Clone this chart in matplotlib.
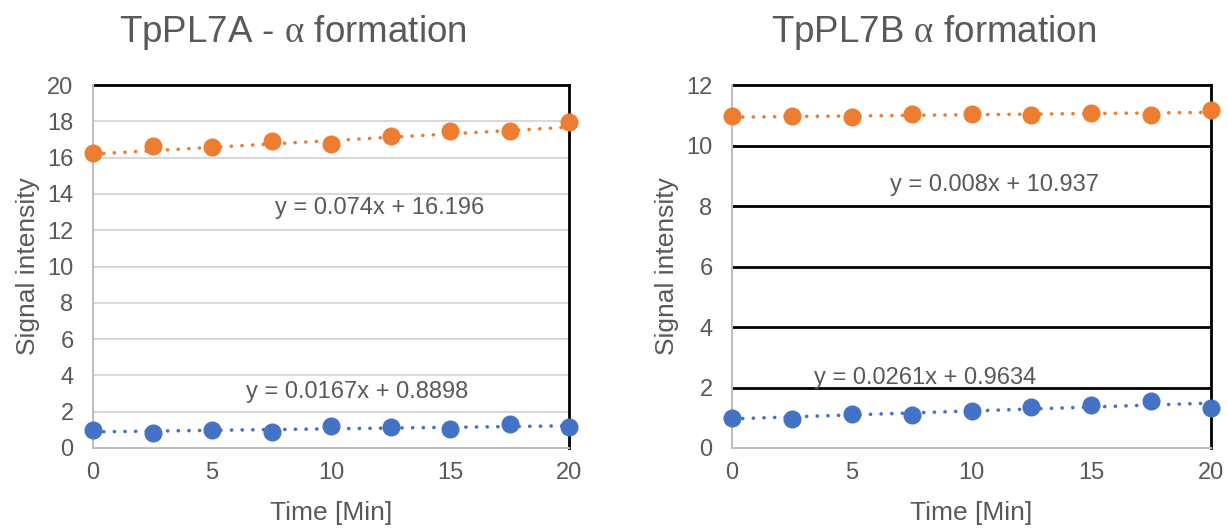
import matplotlib
matplotlib.use("Agg")
import matplotlib.pyplot as plt

plt.rcParams['font.family'] = ['Liberation Sans', 'DejaVu Sans']
plt.rcParams['mathtext.fontset'] = 'custom'
plt.rcParams['mathtext.rm'] = 'Liberation Serif'

# ---- data ----
time_min = [0, 2.5, 5, 7.5, 10, 12.5, 15, 17.5, 20]

a_orange = [16.25, 16.65, 16.57, 16.92, 16.74, 17.2, 17.44, 17.44, 17.94]
a_blue = [1.01, 0.83, 1.01, 0.88, 1.19, 1.16, 1.05, 1.32, 1.16]
b_orange = [10.99, 10.98, 10.95, 11.04, 11.04, 11.02, 11.07, 11.02, 11.18]
b_blue = [0.99, 0.96, 1.12, 1.10, 1.21, 1.34, 1.41, 1.54, 1.32]

# trendline coefficients (slope, intercept) as shown on the chart
a_orange_fit = (0.074, 16.196)
a_blue_fit = (0.0167, 0.8898)
b_orange_fit = (0.008, 10.937)
b_blue_fit = (0.0261, 0.9634)

titles = [r"TpPL7A - $\mathrm{\alpha}$ formation", r"TpPL7B $\mathrm{\alpha}$ formation"]
x_label = "Time [Min]"
y_label = "Signal intensity"
x_ticks = [0, 5, 10, 15, 20]
a_y_ticks = list(range(0, 21, 2))
b_y_ticks = list(range(0, 13, 2))

ORANGE = "#ED7D31"
BLUE = "#4472C4"
TXT = "#595959"

W, H = 1228, 530
fig = plt.figure(figsize=(W / 100, H / 100), dpi=100)


def px_axes(x0, x1, y0, y1):
    return fig.add_axes([x0 / W, 1 - y1 / H, (x1 - x0) / W, (y1 - y0) / H])


def eq_label(fit):
    s, b = fit
    return f"y = {s:g}x + {b:g}"


def draw(ax, orange, blue, ofit, bfit, yticks, grid_color, grid_lw):
    ax.set_xlim(0, 20)
    ax.set_ylim(yticks[0], yticks[-1])
    ax.set_xticks(x_ticks)
    ax.set_yticks(yticks)
    for yv in yticks[1:-1]:
        ax.axhline(yv, color=grid_color, lw=grid_lw, zorder=0)
    ax.axhline(yticks[-1], color="black", lw=2.0, zorder=0, clip_on=False)
    for series, fit, col in ((orange, ofit, ORANGE), (blue, bfit, BLUE)):
        xs = [time_min[0], time_min[-1]]
        ys = [fit[1] + fit[0] * x for x in xs]
        ax.plot(xs, ys, color=col, lw=2.6, linestyle=(0, (0.05, 2.9)),
                dash_capstyle='round', solid_capstyle='round', zorder=2, clip_on=False)
        ax.plot(time_min, series, 'o', color=col, ms=12, zorder=3, clip_on=False)
    ax.spines["top"].set_visible(False)
    ax.spines["right"].set_color("black")
    ax.spines["right"].set_linewidth(2.0)
    ax.spines["left"].set_color("#BFBFBF")
    ax.spines["left"].set_linewidth(1.5)
    ax.spines["bottom"].set_color("#BFBFBF")
    ax.spines["bottom"].set_linewidth(1.5)
    ax.tick_params(length=0, labelsize=17, colors=TXT)
    ax.tick_params(axis='y', pad=14)
    ax.tick_params(axis='x', pad=10)
    ax.set_xlabel(x_label, fontsize=19, color=TXT, labelpad=12)
    ax.set_ylabel(y_label, fontsize=19, color=TXT, labelpad=5)


ax1 = px_axes(93, 569, 85, 448)
draw(ax1, a_orange, a_blue, a_orange_fit, a_blue_fit, a_y_ticks, "#D9D9D9", 1.5)
ax1.text(12.06, 13.24, eq_label(a_orange_fit), fontsize=17, color=TXT, ha='center', va='center')
ax1.text(11.09, 3.1, eq_label(a_blue_fit), fontsize=17, color=TXT, ha='center', va='center')

ax2 = px_axes(732, 1211, 85, 448)
draw(ax2, b_orange, b_blue, b_orange_fit, b_blue_fit, b_y_ticks, "black", 2.0)
ax2.text(10.98, 8.70, eq_label(b_orange_fit), fontsize=17, color=TXT, ha='center', va='center')
ax2.text(8.06, 2.32, eq_label(b_blue_fit), fontsize=17, color=TXT, ha='center', va='center')

fig.text(293 / W, 1 - 32 / H, titles[0], fontsize=26.5, color=TXT, ha='center', va='center')
fig.text(934 / W, 1 - 32 / H, titles[1], fontsize=26.5, color=TXT, ha='center', va='center')

fig.savefig("out.png", dpi=100, facecolor="white")
